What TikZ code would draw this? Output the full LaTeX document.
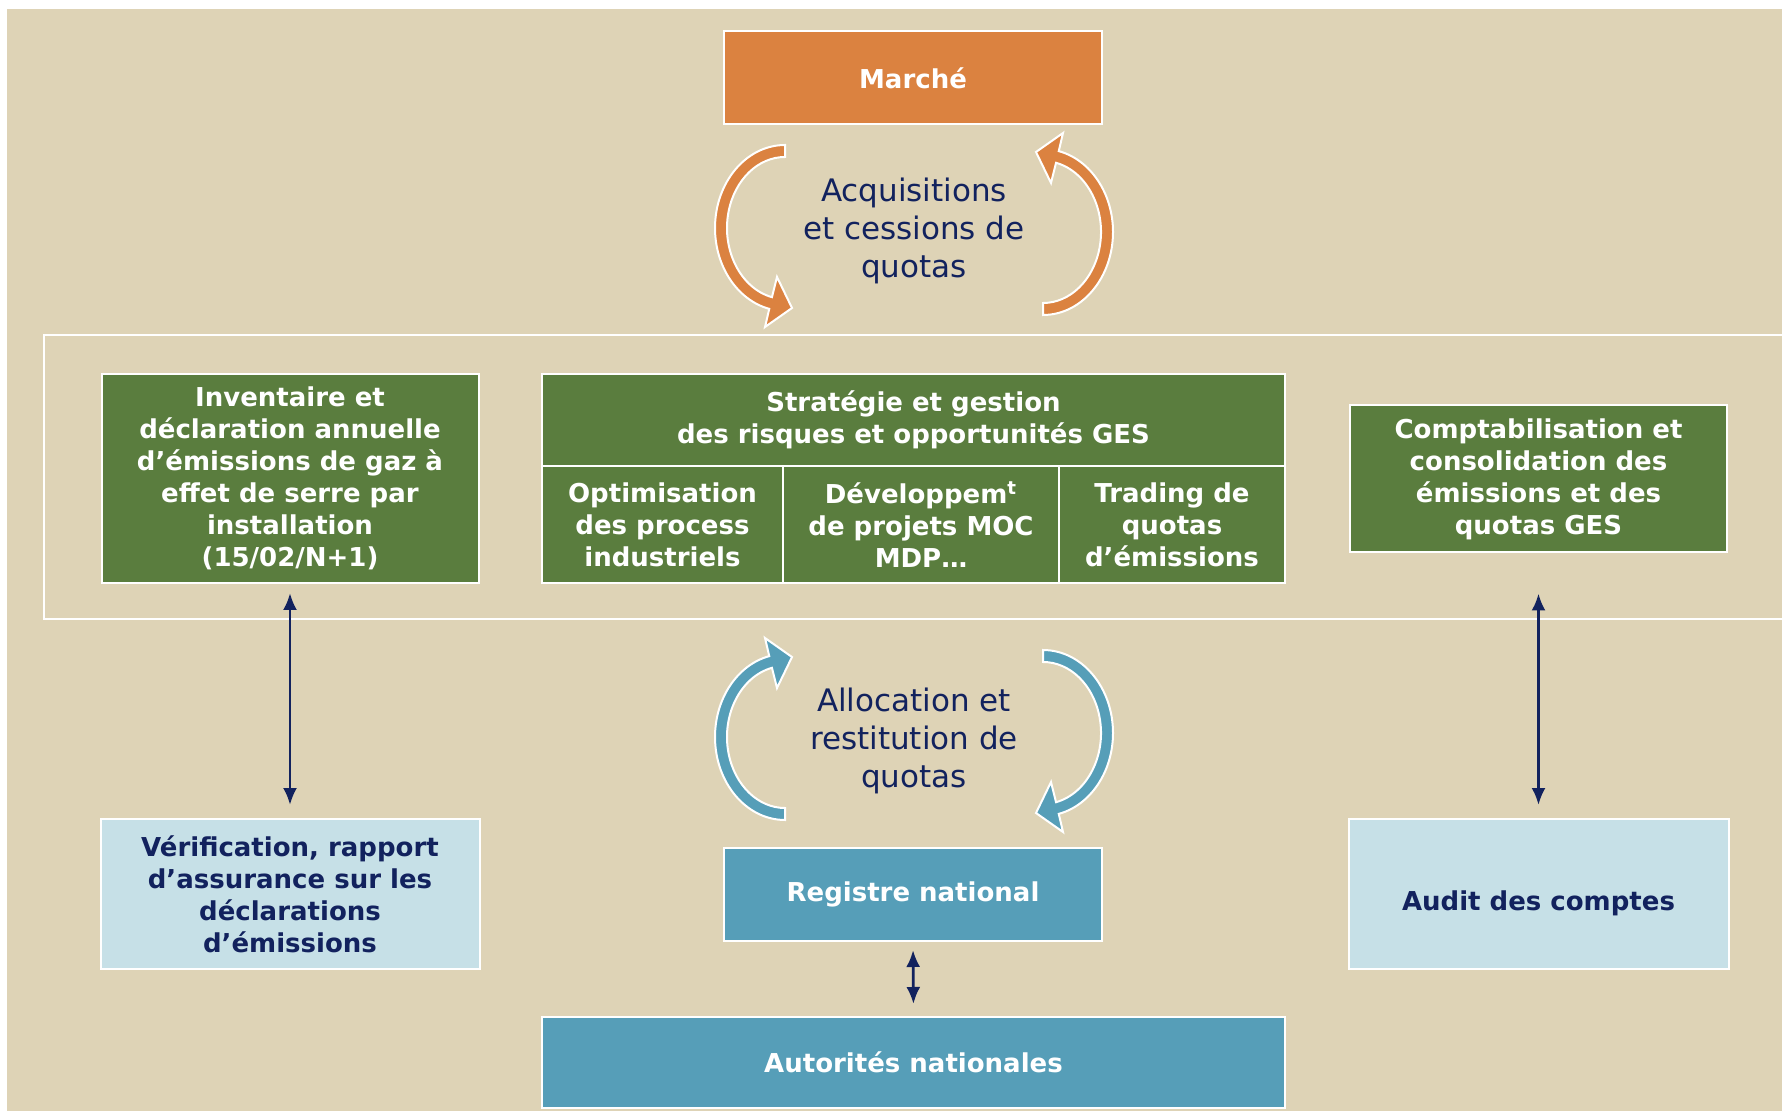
\documentclass[tikz,border=0pt]{standalone}
\usepackage{fontspec}
\setmainfont{DejaVu Sans}
\usepackage{tikz}
\usetikzlibrary{arrows,arrows.meta,positioning,calc,shapes}
\tikzset{>=latex}

\definecolor{sand}{HTML}{DED3B6}
\definecolor{marketor}{HTML}{DB8240}
\definecolor{leaf}{HTML}{5A7D3E}
\definecolor{regblue}{HTML}{569EB8}
\definecolor{paleblue}{HTML}{C6E0E7}
\definecolor{navy}{HTML}{12225E}

\tikzset{
  box/.style={draw=white, line width=1pt, inner sep=2pt, outer sep=0pt, align=center,
    font=\fontsize{13}{16}\selectfont\bfseries},
  greenbox/.style={box, fill=leaf, text=white},
  bluebox/.style={box, fill=regblue, text=white},
  palebox/.style={box, fill=paleblue, text=navy},
  orangebox/.style={box, fill=marketor, text=white},
  looptext/.style={align=center, text=navy, font=\fontsize{15.5}{19}\selectfont},
  halfloop/.pic={
    \fill[#1, draw=white, line width=1pt] (-129,-85)
      arc[start angle=270, end angle=103, x radius=70, y radius=83]
      -- (-149,97) -- (-122,78) -- (-137,47) -- (-142.05,67.18)
      arc[start angle=103, end angle=270, x radius=58, y radius=71] -- cycle;
  }
}

\begin{document}
\begin{tikzpicture}[x=0.5pt, y=-0.5pt]
\useasboundingbox[fill=white] (0,0) rectangle (1782,1111);
\fill[sand] (7,9) rectangle (1782,1111);
\draw[white, line width=1pt] (1782,335) -- (44,335) -- (44,619) -- (1782,619);

\node[orangebox, minimum width=189pt, minimum height=46.5pt] (marche) at (913,78) {Marché};

\node[greenbox, minimum width=188.5pt, minimum height=104.5pt] (inv) at (290,478.5)
  {Inventaire et\\déclaration annuelle\\d’émissions de gaz à\\effet de serre par\\installation\\(15/02/N+1)};
\node[greenbox, minimum width=371.5pt, minimum height=46pt] (strat) at (913.5,420)
  {Stratégie et gestion\\des risques et opportunités GES};
\node[greenbox, minimum width=120.5pt, minimum height=58.5pt] (opt) at (662.5,524.5)
  {Optimisation\\des process\\industriels};
\node[greenbox, minimum width=138pt, minimum height=58.5pt] (dev) at (921,524.5)
  {Développem\textsuperscript{t}\\de projets MOC\\MDP…};
\node[greenbox, minimum width=113pt, minimum height=58.5pt] (trad) at (1172,524.5)
  {Trading de\\quotas\\d’émissions};
\node[greenbox, minimum width=188.5pt, minimum height=73.5pt] (compta) at (1538.5,479)
  {Comptabilisation et\\consolidation des\\émissions et des\\quotas GES};

\node[palebox, minimum width=189.5pt, minimum height=75pt] (verif) at (290,894)
  {Vérification, rapport\\d’assurance sur les\\déclarations\\d’émissions};
\node[bluebox, minimum width=189pt, minimum height=46.5pt] (registre) at (913,894.5) {Registre national};
\node[palebox, minimum width=190pt, minimum height=75pt, text height=19.5pt] (audit) at (1538.5,894) {Audit des comptes};
\node[bluebox, minimum width=371.5pt, minimum height=45.5pt] (autor) at (913.5,1062.5) {Autorités nationales};

% cycles
\pic at (914,230) {halfloop=marketor};
\pic[rotate=180] at (914,230) {halfloop=marketor};
\node[looptext] (acq) at (914,231) {Acquisitions\\et cessions de\\quotas};
\pic[yscale=-1] at (914,735) {halfloop=regblue};
\pic[xscale=-1] at (914,735) {halfloop=regblue};
\node[looptext] (alloc) at (914,741) {Allocation et\\restitution de\\quotas};

\begin{scope}[line width=1.4pt, navy, >={Latex[length=8.5pt, width=7pt]}]
\draw[<->, shorten <=5pt, shorten >=7pt] (inv.south) to (verif.north);
\draw[<->, shorten <=20.5pt, shorten >=7pt] (compta.south) to (audit.north);
\draw[<->, shorten <=4.5pt, shorten >=6.5pt] (registre.south) to (autor.north);
\end{scope}
%\draw[help lines] (0,0) grid[step=100] (1782,1111);
\end{tikzpicture}
\end{document}
